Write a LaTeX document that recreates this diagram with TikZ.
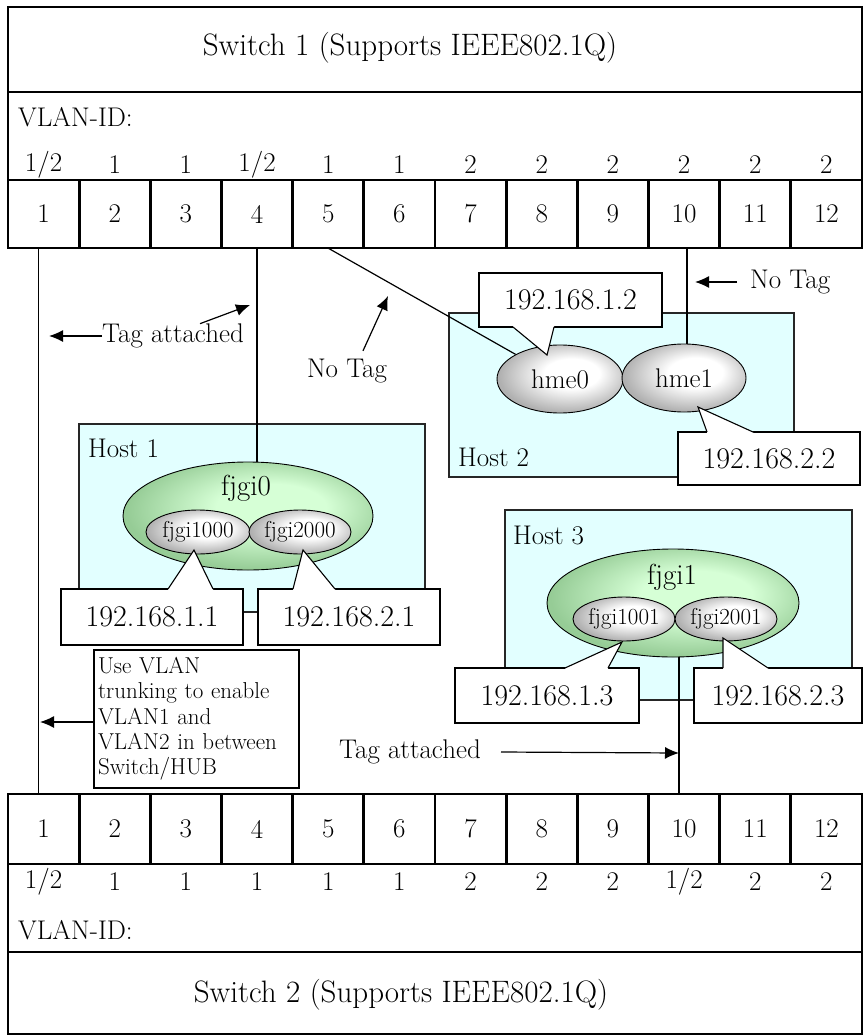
\documentclass[tikz,border=0pt]{standalone}
\usepackage{fontspec}
\usetikzlibrary{arrows.meta,shapes.geometric}
\definecolor{hostcyan}{RGB}{226,255,255}
\definecolor{glight}{RGB}{214,255,214}
\definecolor{gdark}{RGB}{150,204,150}
\definecolor{graydark}{RGB}{176,176,176}
\pgfdeclareradialshading{greyball}{\pgfpoint{6bp}{5bp}}{color(0bp)=(white); color(11bp)=(white); color(27bp)=(graydark); color(50bp)=(graydark)}
\pgfdeclareradialshading{greenball}{\pgfpoint{6bp}{5bp}}{color(0bp)=(glight); color(11bp)=(glight); color(27bp)=(gdark); color(50bp)=(gdark)}
\newcommand\vlanhalf{1/2}
\tikzset{
  lbl/.style={font=\fontsize{27}{32}\selectfont, inner sep=0pt},
  titletext/.style={font=\fontsize{31}{36}\selectfont, inner sep=0pt},
  portbox/.style={font=\fontsize{27}{32}\selectfont, inner sep=0pt, minimum width=71.1667pt},
  swline/.style={line width=1.7pt},
  sepline/.style={line width=2.8pt},
  conn/.style={line width=1.2pt},
  arr/.style={line width=1.2pt, -{Latex[length=14pt,width=12pt]}},
  hostbox/.style={draw=black!85, line width=1.4pt, fill=hostcyan, inner sep=0pt},
  ethgray/.style={ellipse, draw, line width=0.9pt, shading=greyball, shade, inner sep=0pt, font=\fontsize{27}{30}\selectfont},
  ethgreen/.style={ellipse, draw, line width=0.9pt, shading=greenball, shade, inner sep=0pt},
  ethsub/.style={ellipse, draw, line width=0.9pt, shading=greyball, shade, inner sep=0pt, font=\fontsize{23}{26}\selectfont},
  callbox/.style={draw, line width=1.4pt, fill=white, inner sep=0pt, font=\fontsize{30}{34}\selectfont},
  tail/.style={line width=1.1pt},
  notebox/.style={draw, line width=1.4pt, fill=white, inner sep=0pt, font=\fontsize{23}{25.3}\selectfont}
}
\begin{document}
\begin{tikzpicture}[x=1pt,y=-1pt]
\useasboundingbox (0,0) rectangle (864,1035);

% ---------- Switch 1 ----------
\draw[swline] (8,7) rectangle (862,248);
\draw[swline] (8,92) -- (862,92);
\draw[swline] (8,180) -- (862,180);
\foreach \k in {1,...,11} \draw[sepline] ({8+\k*71.1667},180) -- ({8+\k*71.1667},248);
\node[titletext] (sw1) at (410,48) {Switch 1 (Supports IEEE802.1Q)};
\node[lbl, anchor=west] (vid1) at (18,117) {VLAN-ID:};
\foreach \i/\v in {1/\vlanhalf,2/1,3/1,4/\vlanhalf,5/1,6/1,7/2,8/2,9/2,10/2,11/2,12/2}{
  \node[portbox, minimum height=68pt] (t\i) at ({8+(\i-0.5)*71.1667},214) {\i};
  \node[lbl] (tv\i) at ({8+(\i-0.5)*71.1667},165) {\v};
}

% ---------- Switch 2 ----------
\draw[swline] (8,794) rectangle (862,1034);
\draw[swline] (8,864) -- (862,864);
\draw[swline] (8,952) -- (862,952);
\foreach \k in {1,...,11} \draw[sepline] ({8+\k*71.1667},794) -- ({8+\k*71.1667},864);
\node[titletext] (sw2) at (401,995) {Switch 2 (Supports IEEE802.1Q)};
\node[lbl, anchor=west] (vid2) at (18,930) {VLAN-ID:};
\foreach \i/\v in {1/\vlanhalf,2/1,3/1,4/1,5/1,6/1,7/2,8/2,9/2,10/\vlanhalf,11/2,12/2}{
  \node[portbox, minimum height=70pt] (b\i) at ({8+(\i-0.5)*71.1667},829) {\i};
  \node[lbl] (bv\i) at ({8+(\i-0.5)*71.1667},882) {\v};
}

% ---------- Hosts ----------
\node[hostbox, minimum width=346pt, minimum height=188pt] (host1) at (252,518) {};
\node[lbl, anchor=west] (host1l) at (88,448) {Host 1};
\node[hostbox, minimum width=345pt, minimum height=164pt] (host2) at (621.5,395) {};
\node[lbl, anchor=west] (host2l) at (458,457) {Host 2};
\node[hostbox, minimum width=347pt, minimum height=190pt] (host3) at (678.5,605) {};
\node[lbl, anchor=west] (host3l) at (513,535) {Host 3};

% ---------- Interfaces ----------
\node[ethgray, minimum width=126pt, minimum height=68pt] (hme0) at (560,379) {hme0};
\node[ethgray, minimum width=124pt, minimum height=68pt] (hme1) at (684,378) {hme1};

\node[ethgreen, minimum width=250pt, minimum height=108pt] (fjgi0) at (248,516) {};
\node[lbl, font=\fontsize{29}{32}\selectfont] (fjgi0l) at (246,488) {fjgi0};
\node[ethsub, minimum width=104pt, minimum height=44pt] (fjgi1000) at (198,532) {fjgi1000};
\node[ethsub, minimum width=102pt, minimum height=44pt] (fjgi2000) at (300,532) {fjgi2000};

\node[ethgreen, minimum width=252pt, minimum height=108pt] (fjgi1) at (673,603) {};
\node[lbl, font=\fontsize{29}{32}\selectfont] (fjgi1l) at (672,577) {fjgi1};
\node[ethsub, minimum width=102pt, minimum height=44pt] (fjgi1001) at (624,619) {fjgi1001};
\node[ethsub, minimum width=102pt, minimum height=44pt] (fjgi2001) at (726,619) {fjgi2001};

% ---------- Cables ----------
\draw[conn] ([xshift=-5pt]t1.south) -- ([xshift=-5pt]b1.north);
\draw[conn] (t4.south) -- (t4.south |- fjgi0.north);
\draw[conn] (t5.south) -- (hme0.151);
\draw[conn] ([xshift=3pt]t10.south) -- ([xshift=3pt]t10.south |- hme1.north);
\draw[conn] ([xshift=-5pt]b10.north) -- ([xshift=-5pt]b10.north |- fjgi1.south);

% ---------- Callouts ----------
\node[callbox, minimum width=183pt, minimum height=54pt] (c12) at (570.5,300) {192.168.1.2};
\fill[white] (513,324) -- (513,327) -- (547,355) -- (554,327) -- (554,324) -- cycle;
\draw[tail] (513,327) -- (547,355) -- (554,327);

\node[callbox, minimum width=182pt, minimum height=53pt] (c22) at (769,458.5) {192.168.2.2};
\fill[white] (707,435) -- (707,432) -- (698,407) -- (753,432) -- (753,435) -- cycle;
\draw[tail] (707,432) -- (698,407) -- (753,432);

\node[callbox, minimum width=182pt, minimum height=56pt] (c11) at (152,617) {192.168.1.1};
\fill[white] (168,592) -- (168,589) -- (194,550) -- (213,589) -- (213,592) -- cycle;
\draw[tail] (168,589) -- (194,550) -- (213,589);

\node[callbox, minimum width=182pt, minimum height=56pt] (c21) at (349,617) {192.168.2.1};
\fill[white] (293,592) -- (293,589) -- (303,550) -- (335,589) -- (335,592) -- cycle;
\draw[tail] (293,589) -- (303,550) -- (335,589);

\node[callbox, minimum width=184pt, minimum height=55pt] (c13) at (547,695.5) {192.168.1.3};
\fill[white] (565,671) -- (565,668) -- (622,642) -- (608,668) -- (608,671) -- cycle;
\draw[tail] (565,668) -- (622,642) -- (608,668);

\node[callbox, minimum width=168pt, minimum height=55pt] (c23) at (778,695.5) {192.168.2.3};
\fill[white] (723,671) -- (723,668) -- (723,638) -- (768,668) -- (768,671) -- cycle;
\draw[tail] (723,668) -- (723,638) -- (768,668);

% ---------- Tag labels and arrows ----------
\node[lbl, anchor=west] (notag1) at (750,282) {No Tag};
\coordinate (notag1tip) at (695,282);
\draw[arr] ([xshift=-13pt]notag1.west) -- (notag1tip);

\node[lbl] (tagA) at (173,336) {Tag attached};
\coordinate (tagAleft) at (49,336);
\coordinate (tagAport) at (250,305);
\draw[arr] (tagA.west) -- (tagAleft);
\draw[arr] ([xshift=27pt]tagA.north) -- (tagAport);

\node[lbl] (notag2) at (347,371) {No Tag};
\coordinate (notag2tip) at (388,296);
\draw[arr] ([xshift=16pt,yshift=8pt]notag2.north) -- (notag2tip);

\node[notebox, minimum width=205pt, minimum height=138pt, text width=197pt, align=left] (note) at (196.5,719) {Use VLAN\\trunking to enable\\VLAN1 and\\VLAN2 in between\\Switch/HUB};
\coordinate (noteleft) at (40,722);
\draw[arr] (note.west |- noteleft) -- (noteleft);

\node[lbl] (tagB) at (410,752) {Tag attached};
\coordinate (tagBtip) at (679,753);
\draw[arr] ([xshift=20pt]tagB.east) -- (tagBtip);
\end{tikzpicture}
\end{document}
